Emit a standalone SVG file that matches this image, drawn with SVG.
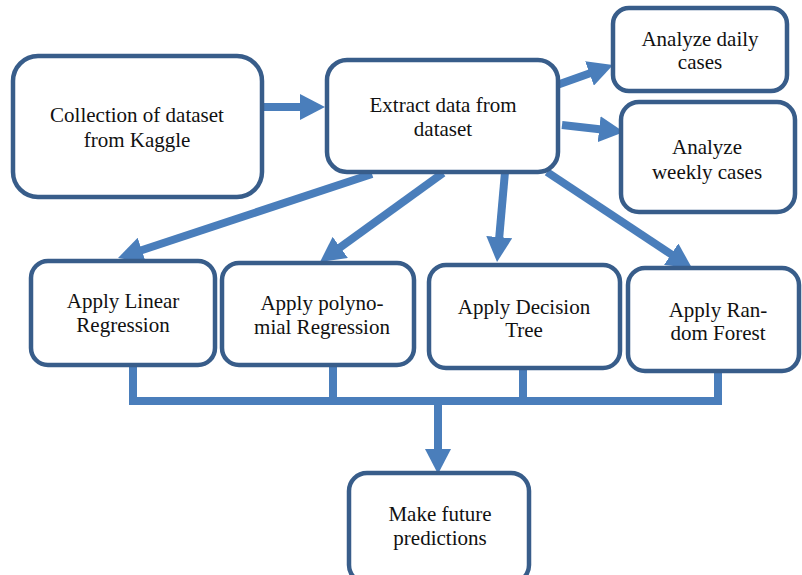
<svg xmlns="http://www.w3.org/2000/svg" width="802" height="575" viewBox="0 0 802 575">
<style>
.box{fill:#ffffff;stroke:#385d8a;stroke-width:4.5}
.t{font-family:'Liberation Serif','Times New Roman',serif;font-size:21px;fill:#111;text-anchor:middle}
.c{stroke:#4a7ebb;stroke-width:8;fill:none}
.a{stroke:#4a7ebb;stroke-width:8;fill:none;marker-end:url(#ah)}
</style>
<defs>
<marker id="ah" viewBox="0 0 25 26" refX="5" refY="13" markerWidth="25" markerHeight="26" markerUnits="userSpaceOnUse" orient="auto">
<path d="M0,0 L25,13 L0,26 Z" fill="#4a7ebb"/>
</marker>
</defs>
<rect width="802" height="575" fill="#ffffff"/>
<g id="connectors">
<line class="a" x1="264" y1="107" x2="305" y2="107"/>
<line class="a" x1="557" y1="85" x2="594.2" y2="71.7"/>
<line class="a" x1="562" y1="125" x2="604.1" y2="129.8"/>
<line class="a" x1="372" y1="174" x2="137" y2="251.7"/>
<line class="a" x1="443" y1="173" x2="336.2" y2="250.3"/>
<line class="a" x1="505" y1="172" x2="498.8" y2="242.1"/>
<line class="a" x1="547" y1="172" x2="675.3" y2="257"/>
<path class="c" d="M133,366 V401 H722 M333,366 V401 M523,369 V401 M718,373 V405"/>
<line class="a" x1="438" y1="401" x2="438" y2="454"/>
</g>
<g id="collect"><rect class="box" x="13" y="56" width="249" height="141" rx="25"/>
<text class="t" x="137" y="122">Collection of dataset</text><text class="t" x="137" y="147">from Kaggle</text></g>
<g id="extract"><rect class="box" x="327" y="60" width="231" height="112" rx="20"/>
<text class="t" x="443" y="112">Extract data from</text><text class="t" x="443" y="136">dataset</text></g>
<g id="daily"><rect class="box" x="613" y="8" width="174" height="83" rx="16"/>
<text class="t" x="700" y="46">Analyze daily</text><text class="t" x="700" y="69">cases</text></g>
<g id="weekly"><rect class="box" x="621" y="102" width="174" height="110" rx="18"/>
<text class="t" x="707" y="154">Analyze</text><text class="t" x="707" y="179">weekly cases</text></g>
<g id="linear"><rect class="box" x="31" y="261" width="184" height="104" rx="17"/>
<text class="t" x="123" y="308">Apply Linear</text><text class="t" x="123" y="332">Regression</text></g>
<g id="poly"><rect class="box" x="222" y="263" width="192" height="102" rx="17"/>
<text class="t" x="322" y="310">Apply polyno-</text><text class="t" x="322" y="334">mial Regression</text></g>
<g id="decision"><rect class="box" x="429" y="265" width="191" height="103" rx="17"/>
<text class="t" x="524" y="314">Apply Decision</text><text class="t" x="524" y="337">Tree</text></g>
<g id="forest"><rect class="box" x="628" y="268" width="171" height="103" rx="17"/>
<text class="t" x="718" y="317">Apply Ran-</text><text class="t" x="718" y="340">dom Forest</text></g>
<g id="predict"><rect class="box" x="349" y="473" width="180" height="110" rx="18"/>
<text class="t" x="440" y="521">Make future</text><text class="t" x="440" y="545">predictions</text></g>
</svg>
